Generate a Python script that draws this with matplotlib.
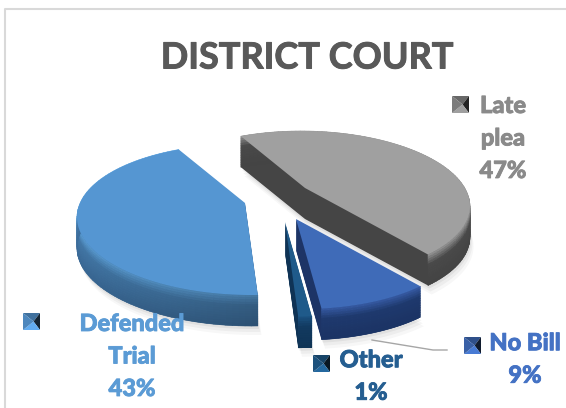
#!/usr/bin/env python3
"""Exploded 3D-style pie: DISTRICT COURT case outcomes."""
import numpy as np
import matplotlib
matplotlib.use("Agg")
import matplotlib.pyplot as plt
import matplotlib.patheffects as pe
from matplotlib.collections import PolyCollection
from matplotlib.colors import to_rgb
from matplotlib.patches import Polygon

plt.rcParams["font.family"] = ["Lato", "DejaVu Sans"]

TITLE = "DISTRICT COURT"
# clockwise order, starting at START_DEG measured from the top of the disk
labels = ["Late\nplea\n47%", "No Bill\n9%", "Other\n1%", "Defended\nTrial\n43%"]
values = [47, 9, 1, 43]

START_DEG = -27.0
RX, RY, PERSP, SHEAR = 170.0, 74.0, 0.22, 5.0
DEPTH = 31.0

# pixel layout per slice
apexes = [(305, 188), (296, 219), (285, 222), (245, 203)]
scales = [0.94, 0.95, 1.0, 0.97]
faces = ["#a0a0a0", "#3f6bb8", "#1f5a8a", "#5596d2"]
rim_hi = ["#8e8e8e", "#35589f", "#1a4f7d", "#62aae6"]
rim_mid = ["#4a4a4a", "#1f3a6e", "#123a60", "#4a84b8"]
rim_low = ["#434343", "#1b3364", "#0f3355", "#3f72a3"]
rim_shade = [0.0, 0.0, 0.0, 0.3]  # darkening towards the start of the arc
cuts = ["#454545", "#1d3466", "#0f3355", "#35618c"]
label_colors = ["#8a8a8a", "#4472c4", "#255e91", "#5b9bd5"]
label_xy = [(503, 138), (525, 359), (371, 376), (132, 356)]
marker_xy = [(452, 96), (464, 337), (313, 355), (23, 313)]
LEADER = [(372, 340), (433, 350), (447, 350)]


def project(theta):
    x_d, y_d = np.sin(theta), np.cos(theta)
    den = 1 + PERSP * y_d
    return np.column_stack([(RX * x_d - SHEAR * y_d) / den, -RY * y_d / den])


def mix(a, b, t):
    return (1 - t) * np.array(to_rgb(a)) + t * np.array(to_rgb(b))


def rim_colour(i, frac, along):
    if frac < 0.3:
        col = mix(rim_hi[i], rim_mid[i], frac / 0.3)
    else:
        col = mix(rim_mid[i], rim_low[i], (frac - 0.3) / 0.7)
    return tuple(col * (1 - rim_shade[i] * (1 - along) ** 2))


def draw_slice(ax, i, start, sweep):
    theta = np.radians(np.linspace(start, start + sweep, 90))
    apex = np.array(apexes[i], dtype=float)
    arc = project(theta) * scales[i] + apex
    outline = np.vstack([apex, arc])

    # soft shadow under the slice
    for off, alpha in [(9, 0.03), (6, 0.04), (3, 0.05)]:
        ax.add_patch(Polygon(outline + (off * 0.4, DEPTH + off), closed=True,
                             fc="k", ec="none", alpha=alpha, zorder=2 + i))
    # cut faces: stack the outline downwards
    for h in np.arange(DEPTH, 0, -1.0):
        ax.add_patch(Polygon(outline + (0, h), closed=True, fc=cuts[i],
                             ec="none", zorder=3 + i))
    # outer rim, light band on top and darker to the bottom
    bands = np.linspace(0, DEPTH, 14)
    quads, cols = [], []
    for j in range(len(arc) - 1):
        for b0, b1 in zip(bands[:-1], bands[1:]):
            quads.append([arc[j] + (0, b0), arc[j + 1] + (0, b0),
                          arc[j + 1] + (0, b1), arc[j] + (0, b1)])
            cols.append(rim_colour(i, b0 / DEPTH, j / (len(arc) - 1)))
    ax.add_collection(PolyCollection(quads, facecolors=cols, edgecolors=cols,
                                     linewidths=0.4, zorder=3 + i))
    ax.add_patch(Polygon(outline, closed=True, fc=faces[i], ec="none",
                         zorder=3 + i))


def draw_marker(ax, x, y, colour, size=17):
    base = np.array(to_rgb(colour))
    tl, tr = (x, y), (x + size, y)
    bl, br = (x, y + size), (x + size, y + size)
    mid = (x + size * 0.62, y + size * 0.5)
    shades = [(tl, tr, 0.75), (tr, br, 0.25), (br, bl, 1.15), (bl, tl, 0.9)]
    for p, q, s in shades:
        ax.add_patch(Polygon([p, q, mid], closed=True, ec="none",
                             fc=tuple(np.clip(base * s, 0, 1)), zorder=20))


fig = plt.figure(figsize=(5.66, 4.08), dpi=100)
ax = fig.add_axes([0, 0, 1, 1])
ax.set_xlim(0, 566)
ax.set_ylim(408, 0)
ax.axis("off")

# thin chart frame
ax.plot([5, 5, 566], [408, 9, 9], color="#d9d9d9", lw=1.5, zorder=1)

# Lato's bold comes out light next to the reference, so thicken with a stroke
ax.text(307, 58, TITLE, ha="center", va="center", fontsize=26,
        fontweight="bold", color="#595959", zorder=30,
        path_effects=[pe.withStroke(linewidth=0.7, foreground="#595959")])

angle = START_DEG
for i, val in enumerate(values):
    sweep = val / sum(values) * 360.0
    draw_slice(ax, i, angle, sweep)
    angle += sweep

ax.plot(*zip(*LEADER), color="#a6a6a6", lw=1, zorder=15)

for i, lab in enumerate(labels):
    ax.text(*label_xy[i], lab, ha="center", va="center", fontsize=17,
            fontweight=900, color=label_colors[i], linespacing=1.5, zorder=30,
            path_effects=[pe.withStroke(linewidth=0.6,
                                        foreground=label_colors[i])])
    draw_marker(ax, *marker_xy[i], faces[i] if i else "#8a8a8a")

fig.savefig("out.png", dpi=100)
